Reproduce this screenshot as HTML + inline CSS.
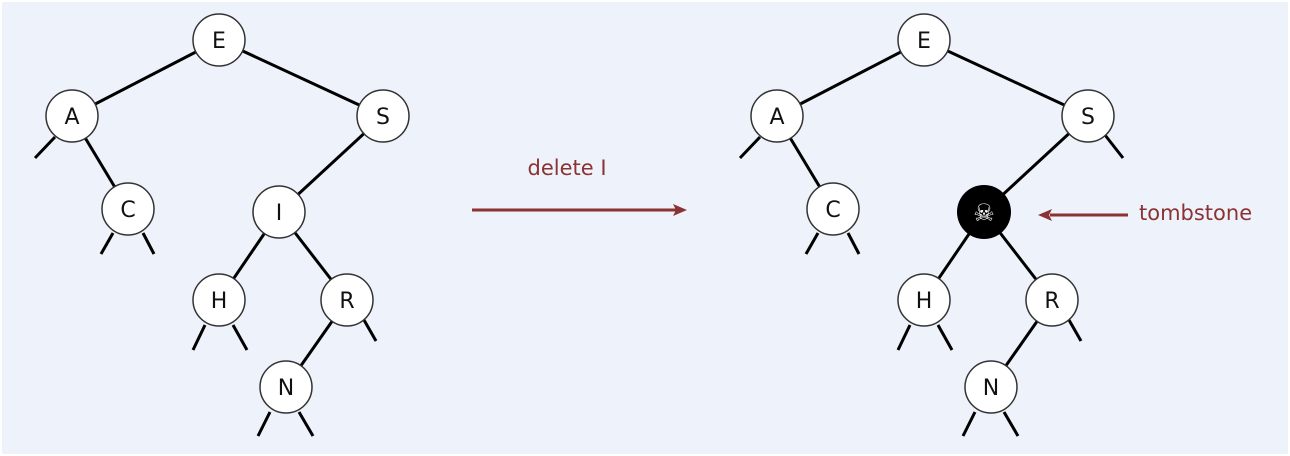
<!DOCTYPE html>
<html><head><style>
body{margin:0;background:#fff}
svg{display:block}
text{font-family:"DejaVu Sans","Liberation Sans",sans-serif}
</style></head><body>
<svg width="1290" height="456" viewBox="0 0 1290 456">
<rect x="2" y="2" width="1286" height="452" fill="#edf2fb"/>
<defs>
<g id="edges" stroke="#000" stroke-width="3" fill="none">
<line x1="219" y1="40" x2="72" y2="116"/>
<line x1="219" y1="40" x2="383" y2="116"/>
<line x1="72" y1="116" x2="128" y2="209"/>
<line x1="383" y1="116" x2="279" y2="212"/>
<line x1="279" y1="212" x2="219" y2="300"/>
<line x1="279" y1="212" x2="347" y2="300"/>
<line x1="347" y1="300" x2="286" y2="387"/>
<line x1="55" y1="137" x2="35" y2="158"/>
<line x1="113" y1="233" x2="101" y2="254"/>
<line x1="143" y1="233" x2="154" y2="254"/>
<line x1="205" y1="325" x2="193" y2="350"/>
<line x1="233" y1="325" x2="247" y2="350"/>
<line x1="364" y1="320" x2="376" y2="341"/>
<line x1="270" y1="412" x2="258" y2="436"/>
<line x1="299" y1="412" x2="313" y2="436"/>
</g>
<g id="n"><circle r="26" fill="#fff" stroke="#333" stroke-width="1.5"/></g>
</defs>
<use href="#edges"/>
<use href="#edges" x="705"/>
<line x1="1105" y1="135" x2="1123" y2="158" stroke="#000" stroke-width="3"/>
<g font-size="22" text-anchor="middle" fill="#111">
<g transform="translate(219,40)"><use href="#n"/><text y="8">E</text></g>
<g transform="translate(72,116)"><use href="#n"/><text y="8">A</text></g>
<g transform="translate(383,116)"><use href="#n"/><text y="8">S</text></g>
<g transform="translate(128,209)"><use href="#n"/><text y="8">C</text></g>
<g transform="translate(279,212)"><use href="#n"/><text y="8">I</text></g>
<g transform="translate(219,300)"><use href="#n"/><text y="8">H</text></g>
<g transform="translate(347,300)"><use href="#n"/><text y="8">R</text></g>
<g transform="translate(286,387)"><use href="#n"/><text y="8">N</text></g>
<g transform="translate(924,40)"><use href="#n"/><text y="8">E</text></g>
<g transform="translate(777,116)"><use href="#n"/><text y="8">A</text></g>
<g transform="translate(1088,116)"><use href="#n"/><text y="8">S</text></g>
<g transform="translate(833,209)"><use href="#n"/><text y="8">C</text></g>
<g transform="translate(984,212)"><circle r="27" fill="#000"/><text y="9" fill="#fff" font-size="24">☠</text></g>
<g transform="translate(924,300)"><use href="#n"/><text y="8">H</text></g>
<g transform="translate(1052,300)"><use href="#n"/><text y="8">R</text></g>
<g transform="translate(991,387)"><use href="#n"/><text y="8">N</text></g>
</g>
<line x1="472" y1="210" x2="676" y2="210" stroke="#8b3333" stroke-width="3"/>
<polygon points="687,210 673,204 676,210 673,216" fill="#8b3333"/>
<text x="567" y="175" font-size="21" fill="#8b3333" text-anchor="middle">delete I</text>
<line x1="1128" y1="215" x2="1050" y2="215" stroke="#8b3333" stroke-width="3"/>
<polygon points="1038,215 1052,209 1049,215 1052,221" fill="#8b3333"/>
<text x="1139" y="220" font-size="21" fill="#8b3333">tombstone</text>
</svg>
</body></html>
